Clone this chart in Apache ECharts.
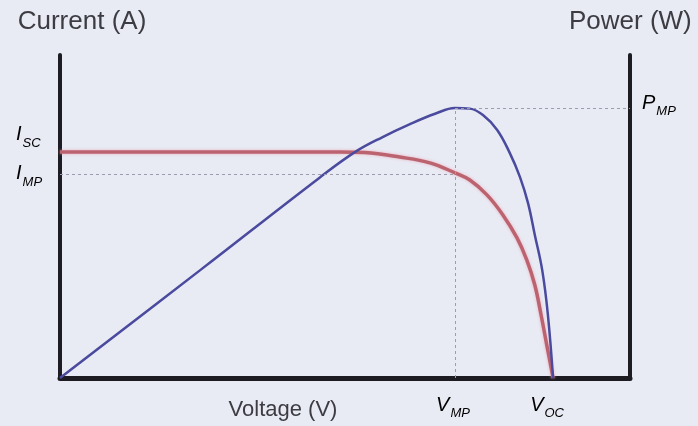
<!DOCTYPE html>
<html><head><meta charset="utf-8">
<script src="https://cdn.jsdelivr.net/npm/echarts@6/dist/echarts.min.js"></script>
<style>html,body{margin:0;padding:0;background:#e8eaf4}#c{width:698px;height:426px}</style>
</head><body><div id="c"></div>
<script>
// Voltage (arbitrary units) and current / power readings
var currentV = [0, 24.6, 49.1, 53.5, 59.6, 64.9, 69.3, 71.9, 74.9, 77.7, 80.2, 81.9, 83.3, 84.4, 85.4, 86.5];
var currentI = [70.0, 70.0, 70.0, 69.8, 68.4, 66.6, 63.5, 61.3, 56.7, 50.5, 43.3, 36.5, 28.8, 19.5, 10.2, 0];
var powerV = [0, 24.6, 45.6, 51.8, 56.6, 61.4, 65.8, 69.3, 71.9, 74.2, 76.7, 78.9, 80.7, 82.1, 83.3, 84.6, 85.6, 86.5];
var powerP = [0, 33.4, 62.1, 70.0, 74.6, 78.6, 81.8, 83.6, 83.4, 81.4, 76.8, 69.7, 62.2, 54.2, 44.3, 33.4, 19.5, 0];
var Vmp = 69.3, Voc = 86.5, Isc = 70.0, Imp = 63.2, Pmp = 83.6;

function pairs(xs, ys){ return xs.map(function(x,i){ return [x, ys[i]]; }); }

var chart = echarts.init(document.getElementById('c'));
var axisLineStyle = {color:'#1c1c22', width:4};
var dash = {color:'#9c9cae', width:1, type:[3,3]};
chart.setOption({
  backgroundColor:'#e8eaf4',
  animation:false,
  grid:{left:60, right:68, top:55, bottom:48},
  xAxis:{type:'value', min:0, max:100, axisLine:{show:true, lineStyle:{color:'#1c1c22', width:5}},
    axisTick:{show:false}, axisLabel:{show:false}, splitLine:{show:false}},
  yAxis:[
    {type:'value', min:0, max:100, position:'left', axisLine:{show:true, lineStyle:axisLineStyle},
      axisTick:{show:false}, axisLabel:{show:false}, splitLine:{show:false}},
    {type:'value', min:0, max:100, position:'right', axisLine:{show:true, lineStyle:axisLineStyle},
      axisTick:{show:false}, axisLabel:{show:false}, splitLine:{show:false}}
  ],
  series:[
    {type:'line', name:'Current', yAxisIndex:0, data:pairs(currentV, currentI), showSymbol:false,
      smooth:0.4, lineStyle:{color:'#bb6470', width:3.5, shadowColor:'rgba(240,160,175,0.8)', shadowBlur:3},
      markLine:{silent:true, symbol:'none', label:{show:false}, lineStyle:dash,
        data:[
          [{coord:[0, Imp]},{coord:[Vmp, Imp]}],
          [{coord:[Vmp, 0]},{coord:[Vmp, Pmp]}],
          [{coord:[Vmp, Pmp]},{coord:[100, Pmp]}]
        ]}
    },
    {type:'line', name:'Power', yAxisIndex:1, data:pairs(powerV, powerP), showSymbol:false,
      smooth:0.4, lineStyle:{color:'#4a4a9e', width:2.5}}
  ]
});

function px(v, y){ return chart.convertToPixel({gridIndex:0}, [v, y]); }
var base = {fontFamily:'Liberation Sans', fill:'#3c3c42'};
var it = {fontFamily:'Liberation Sans', fontStyle:'italic', fontSize:20, color:'#3c3c42'};
var sub = {fontFamily:'Liberation Sans', fontStyle:'italic', fontSize:13, color:'#3c3c42', verticalAlign:'bottom', padding:[0,0,-5,1]};
function sym(main, s){ return {rich:{m:it, s:sub}, text:'{m|'+main+'}{s|'+s+'}'}; }
var pIsc = px(0, Isc), pImp = px(0, Imp), pVmp = px(Vmp, 0), pVoc = px(Voc, 0), pPmp = px(100, Pmp);
function lab(x, y, main, s, align, vAlign){
  var o = sym(main, s);
  return {type:'text', x:x, y:y, style:{text:o.text, rich:o.rich, align:align, verticalAlign:vAlign}};
}
chart.setOption({graphic:[
  {type:'text', x:82, y:22, style:Object.assign({text:'Current (A)', fontSize:26, align:'center', verticalAlign:'middle'}, base)},
  {type:'text', x:569, y:22, style:Object.assign({text:'Power (W)', fontSize:26, align:'left', verticalAlign:'middle'}, base)},
  {type:'text', x:283, y:410, style:Object.assign({text:'Voltage (V)', fontSize:22, align:'center', verticalAlign:'middle'}, base)},
  lab(16, pIsc[1]-17, 'I', 'SC', 'left', 'middle'),
  lab(16, pImp[1], 'I', 'MP', 'left', 'middle'),
  lab(pVmp[0]-2, 405, 'V', 'MP', 'center', 'middle'),
  lab(pVoc[0]-6, 405, 'V', 'OC', 'center', 'middle'),
  lab(pPmp[0]+12, pPmp[1]-5, 'P', 'MP', 'left', 'middle')
]});
</script></body></html>
